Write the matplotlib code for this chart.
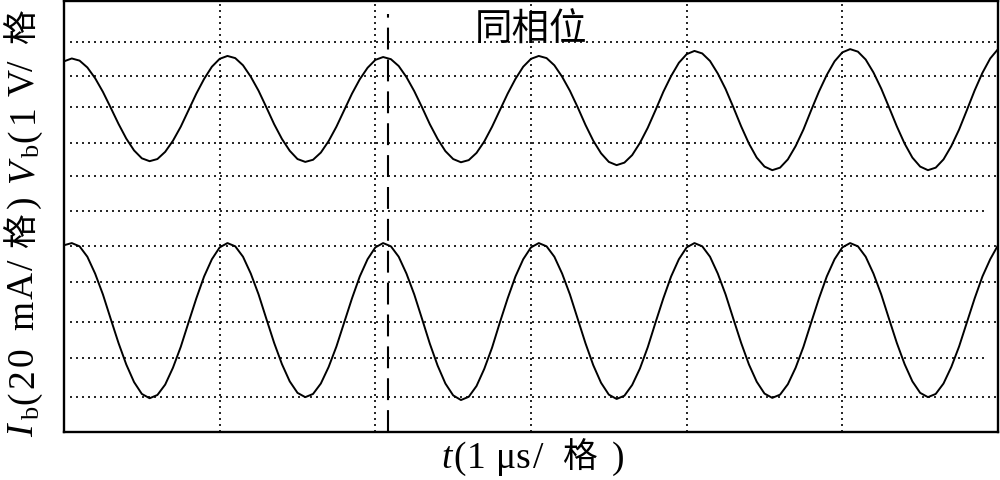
import numpy as np
import matplotlib
matplotlib.use('Agg')
import matplotlib.pyplot as plt
from matplotlib.font_manager import FontProperties
from matplotlib.transforms import IdentityTransform

# ---------------- data (screen divisions) ----------------
sample_step_us = 0.05
vb_div = [
    10.32, 10.40, 10.34, 10.15, 9.85, 9.47, 9.03, 8.58, 8.17, 7.84, 7.62, 7.54, 7.60, 7.80, 8.11, 8.50, 8.96, 9.42, 9.83, 10.17,
    10.39, 10.47, 10.41, 10.21, 9.89, 9.50, 9.04, 8.57, 8.16, 7.83, 7.60, 7.52, 7.58, 7.78, 8.10, 8.50, 8.96, 9.42, 9.82, 10.14,
    10.36, 10.44, 10.38, 10.19, 9.88, 9.49, 9.04, 8.57, 8.16, 7.82, 7.60, 7.51, 7.57, 7.77, 8.09, 8.50, 8.96, 9.42, 9.83, 10.17,
    10.39, 10.47, 10.41, 10.21, 9.89, 9.50, 9.04, 8.55, 8.11, 7.76, 7.52, 7.43, 7.50, 7.71, 8.05, 8.47, 8.96, 9.47, 9.91, 10.28,
    10.52, 10.61, 10.54, 10.33, 9.98, 9.55, 9.04, 8.51, 8.03, 7.64, 7.39, 7.29, 7.36, 7.59, 7.96, 8.42, 8.96, 9.48, 9.94, 10.32,
    10.57, 10.66, 10.59, 10.37, 10.01, 9.56, 9.04, 8.51, 8.03, 7.64, 7.39, 7.29, 7.36, 7.59, 7.96, 8.42, 8.96, 9.51, 10.00, 10.40,
    10.66,
]
ib_div = [
    5.20, 5.26, 5.17, 4.88, 4.41, 3.83, 3.15, 2.48, 1.88, 1.39, 1.06, 0.94, 1.03, 1.32, 1.79, 2.37, 3.05, 3.72, 4.33, 4.81,
    5.14, 5.26, 5.17, 4.88, 4.41, 3.83, 3.15, 2.48, 1.89, 1.41, 1.09, 0.97, 1.06, 1.35, 1.81, 2.38, 3.05, 3.72, 4.33, 4.81,
    5.14, 5.26, 5.17, 4.88, 4.41, 3.83, 3.15, 2.46, 1.85, 1.35, 1.02, 0.89, 0.98, 1.28, 1.76, 2.35, 3.05, 3.72, 4.33, 4.81,
    5.14, 5.26, 5.17, 4.88, 4.41, 3.83, 3.15, 2.47, 1.86, 1.37, 1.04, 0.92, 1.01, 1.31, 1.77, 2.36, 3.05, 3.72, 4.33, 4.81,
    5.14, 5.26, 5.17, 4.88, 4.41, 3.83, 3.15, 2.48, 1.88, 1.40, 1.07, 0.95, 1.04, 1.33, 1.79, 2.37, 3.05, 3.72, 4.33, 4.81,
    5.14, 5.26, 5.17, 4.88, 4.41, 3.83, 3.15, 2.48, 1.89, 1.41, 1.09, 0.97, 1.06, 1.35, 1.81, 2.38, 3.05, 3.72, 4.33, 4.81,
    5.20,
]
t_us = np.arange(len(vb_div)) * sample_step_us

x_grid = [1, 2, 3, 4, 5]
y_grid = [0.974, 2.060, 3.062, 4.176, 5.178, 6.153, 7.127, 8.046, 9.048, 9.911, 10.857]
y_grid_short = [2.060, 6.153]
marker_t = 2.081
annot_text = '同相位'

# ---------------- figure ----------------
W, H = 1000, 481
fig = plt.figure(figsize=(W / 100, H / 100), dpi=100)
ax = fig.add_axes([64 / W, (H - 433) / H, 934 / W, 431 / H])
ax.set_xlim(0, 6)
ax.set_ylim(0, 12)
ax.set_xticks([])
ax.set_yticks([])
for s in ax.spines.values():
    s.set_linewidth(1.7)
    s.set_color('black')

dot = (0, (1.2, 2.4))
for x in x_grid:
    ax.axvline(x, color='black', lw=1.2, ls=dot, zorder=1)
for y in y_grid:
    xmax = 0.988 if y in y_grid_short else 1.0
    ax.axhline(y, xmin=0.006, xmax=xmax, color='black', lw=1.2, ls=dot, zorder=1)

ax.plot(t_us, vb_div, color='black', lw=1.4, zorder=3)
ax.plot(t_us, ib_div, color='black', lw=1.4, zorder=3)
ax.plot([marker_t, marker_t], [0, 11.64], color='black', lw=1.5, ls=(0, (10.5, 4.8)), zorder=4)

ax.text(3.0, 11.22, annot_text, ha='center', va='center', fontsize=27,
        family=['Noto Sans CJK SC', 'DejaVu Sans'], color='black')

# ---------------- mixed-font axis labels (pieces placed along the label) ----------------
SERIF = 'Liberation Serif'
CJK = 'Noto Sans CJK SC'


def fp(size, style='normal', family=SERIF):
    return FontProperties(family=family, style=style, size=size)


LAT, SUB, HAN = 27, 19, 25

# x label: (text, font, left edge px from image left), baseline 468 px from top
xl = [
    ('t', fp(LAT, 'italic'), 441),
    ('(', fp(LAT), 453),
    ('1', fp(LAT), 467),
    ('μs', fp(LAT), 496),
    ('/', fp(LAT), 533),
    ('格', fp(HAN, family=CJK), 562),
    (')', fp(LAT), 612),
]
for s, prop, x in xl:
    fig.text(x, H - 468, s, fontproperties=prop, ha='left', va='baseline',
             transform=IdentityTransform())

# y label (rotated): (text, font, start px from image top, baseline offset px)
yl = [
    ('I', fp(LAT, 'italic'), 437, 0),
    ('b', fp(SUB), 420, 6),
    ('(', fp(LAT), 404, 0),
    ('2', fp(LAT), 388, 0),
    ('0', fp(LAT), 366, 0),
    ('m', fp(LAT), 330, 0),
    ('A', fp(LAT), 299, 0),
    ('/', fp(LAT), 270, 0),
    ('格', fp(HAN, family=CJK), 248, 0),
    (')', fp(LAT), 208, 0),
    ('V', fp(LAT, 'italic'), 183, 0),
    ('b', fp(SUB), 158, 6),
    ('(', fp(LAT), 142, 0),
    ('1', fp(LAT), 123, 0),
    ('V', fp(LAT), 96, 0),
    ('/', fp(LAT), 71, 0),
    ('格', fp(HAN, family=CJK), 44, 0),
]
for s, prop, y, sh in yl:
    fig.text(33 + sh, H - y, s, fontproperties=prop, ha='left', va='baseline',
             rotation=90, rotation_mode='anchor', transform=IdentityTransform())

fig.savefig('out.png', dpi=100)
